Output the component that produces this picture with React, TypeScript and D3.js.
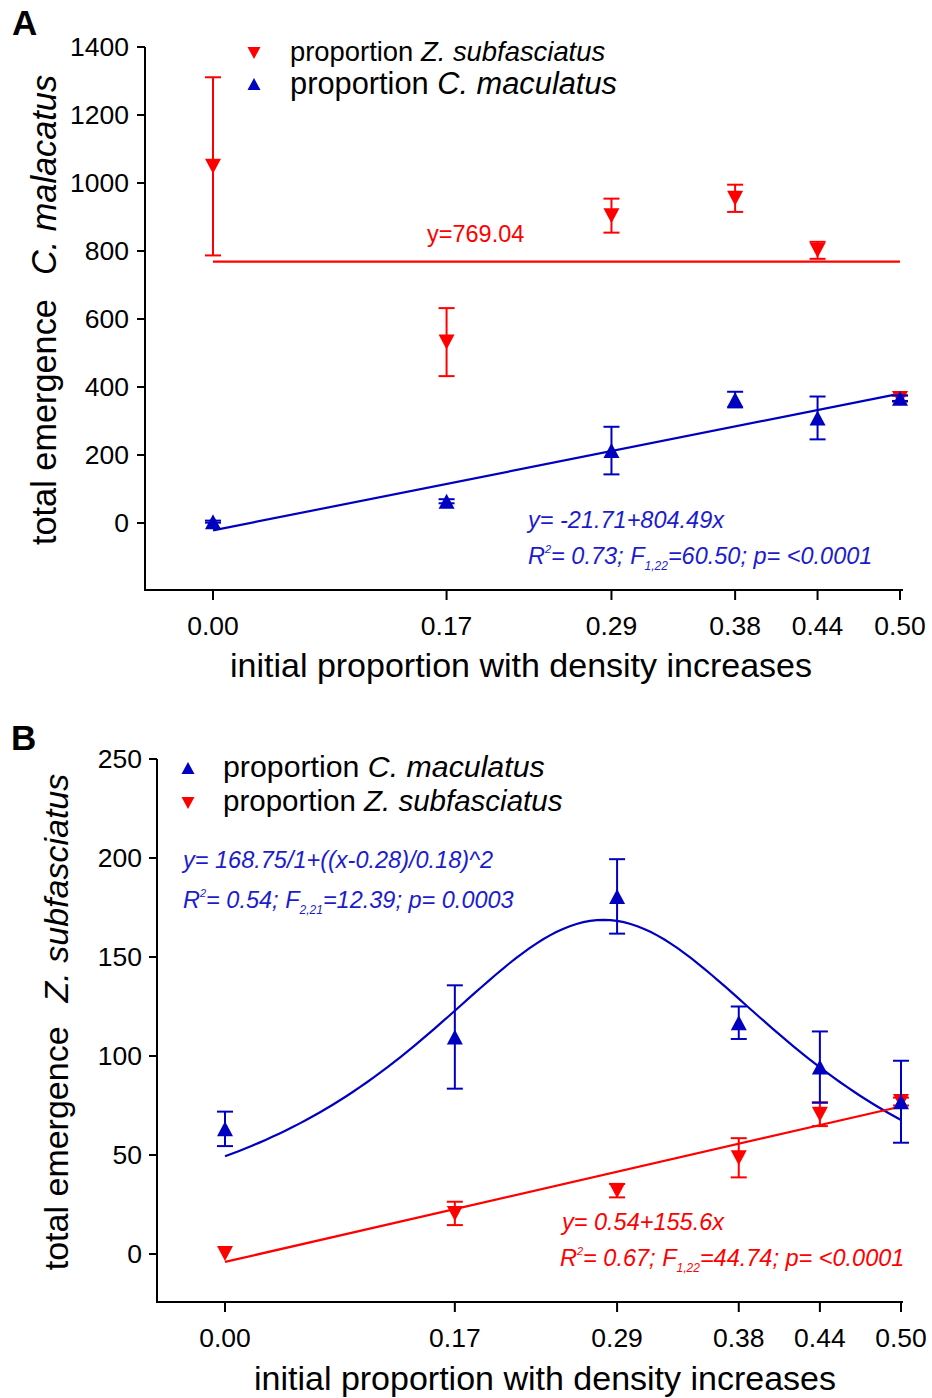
import React from "react";
import * as d3 from "d3";

// ---------- shared ----------
const xTickValues = [0, 0.17, 0.29, 0.38, 0.44, 0.5];
const xTickLabels = ["0.00", "0.17", "0.29", "0.38", "0.44", "0.50"];
const xPoints = [0, 0.17, 0.29, 0.38, 0.44, 0.5];

// ---------- panel A (C. malacatus emergence) ----------
const aTicksY = [0, 200, 400, 600, 800, 1000, 1200, 1400];
const aZsubMean = [1049, 532, 904, 955, 802, 366];
const aZsubErr = [262, 100, 50, 40, 25, 9];
const aCmacMean = [4, 64, 213, 363, 309, 367];
const aCmacErr = [3, 6, 70, 23, 63, 8];
const aZsubFit = 769.04; // horizontal line
const aCmacFit = [-21.71, 804.49]; // intercept, slope

// ---------- panel B (Z. subfasciatus emergence) ----------
const bTicksY = [0, 50, 100, 150, 200, 250];
const bCmacMean = [63.2, 109.6, 180.6, 116.8, 94.4, 76.9];
const bCmacErr = [8.7, 26.1, 18.8, 8.2, 18, 20.7];
const bZsubMean = [0.3, 20.5, 32, 48.6, 70.6, 77];
const bZsubErr = [0, 5.9, 3.4, 9.9, 6, 2];
const bCmacFit = [168.75, 0.28, 0.18]; // a, x0, b  (lorentzian)
const bZsubFit = [-4, 157]; // intercept, slope as drawn

const RED = "#ff0000";
const BLUE = "#0000c0";
const BLUE_TXT = "#1c1ccc";
const FONT = "'Liberation Sans', Arial, Helvetica, sans-serif";

function tri(cx: number, cy: number, up: boolean, hw = 8, hh = 7.5) {
  return up
    ? `M${cx},${cy - hh}L${cx + hw},${cy + hh}L${cx - hw},${cy + hh}Z`
    : `M${cx},${cy + hh}L${cx + hw},${cy - hh}L${cx - hw},${cy - hh}Z`;
}

function Series({ x, y, means, errs, color, up }: any) {
  return (
    <g>
      {xPoints.map((xv, i) => {
        const cx = x(xv);
        const top = y(means[i] + errs[i]);
        const bot = y(means[i] - errs[i]);
        return (
          <g key={i}>
            {errs[i] > 0 && (
              <g stroke={color} strokeWidth={2} fill="none">
                <line x1={cx} x2={cx} y1={top} y2={bot} />
                <line x1={cx - 8} x2={cx + 8} y1={top} y2={top} />
                <line x1={cx - 8} x2={cx + 8} y1={bot} y2={bot} />
              </g>
            )}
            <path d={tri(cx, y(means[i]), up)} fill={color} />
          </g>
        );
      })}
    </g>
  );
}

function Axes({ x, y, yTicks, axisX, axisBottom, axisTop, xLeft, xRight, labelRight }: any) {
  return (
    <g fontFamily={FONT} fontSize={26.5} fill="#000">
      <line x1={axisX} x2={axisX} y1={axisTop} y2={axisBottom} stroke="#000" strokeWidth={2} />
      <line x1={xLeft} x2={xRight} y1={axisBottom} y2={axisBottom} stroke="#000" strokeWidth={2} />
      {yTicks.map((t: number) => (
        <g key={t}>
          <line x1={axisX - 8} x2={axisX} y1={y(t)} y2={y(t)} stroke="#000" strokeWidth={2} />
          <text x={labelRight} y={y(t) + 9} textAnchor="end">
            {t}
          </text>
        </g>
      ))}
      {xTickValues.map((t, i) => (
        <g key={t}>
          <line x1={x(t)} x2={x(t)} y1={axisBottom} y2={axisBottom + 10} stroke="#000" strokeWidth={2} />
          <text x={x(t)} y={axisBottom + 45} textAnchor="middle">
            {xTickLabels[i]}
          </text>
        </g>
      ))}
    </g>
  );
}

function StatLine({ x, y, r2, df, F, p, color }: any) {
  return (
    <text x={x} y={y} fontFamily={FONT} fontSize={23.5} fontStyle="italic" fill={color}>
      <tspan>R</tspan>
      <tspan fontSize={11} dy={-11}>2</tspan>
      <tspan dy={11}>{`= ${r2}; F`}</tspan>
      <tspan fontSize={12} dy={6}>{df}</tspan>
      <tspan dy={-6}>{`=${F}; p= ${p}`}</tspan>
    </text>
  );
}

function PanelA() {
  const x = d3.scaleLinear().domain([0, 0.5]).range([213, 900]);
  const y = d3.scaleLinear().domain([0, 1400]).range([523, 47]);
  const line = d3.line<number>().x((d) => x(d)).y((d) => y(aCmacFit[0] + aCmacFit[1] * d));
  return (
    <g>
      <text x={12} y={35} fontFamily={FONT} fontWeight="bold" fontSize={35}>A</text>
      <Axes x={x} y={y} yTicks={aTicksY} axisX={145} axisTop={47} axisBottom={590} xLeft={144} xRight={903} labelRight={129} />
      <line x1={x(0)} x2={x(0.5)} y1={y(aZsubFit)} y2={y(aZsubFit)} stroke={RED} strokeWidth={2.2} />
      <path d={line([0, 0.5]) || ""} stroke={BLUE} strokeWidth={2.2} fill="none" />
      <Series x={x} y={y} means={aZsubMean} errs={aZsubErr} color={RED} up={false} />
      <Series x={x} y={y} means={aCmacMean} errs={aCmacErr} color={BLUE} up={true} />
      <text x={427} y={242} fontFamily={FONT} fontSize={23.5} fill={RED}>y=769.04</text>
      <text x={528} y={528} fontFamily={FONT} fontSize={23.5} fontStyle="italic" fill={BLUE_TXT}>
        y= -21.71+804.49x
      </text>
      <StatLine x={528} y={564} r2="0.73" df="1,22" F="60.50" p="<0.0001" color={BLUE_TXT} />
      {/* legend */}
      <path d={tri(254, 53, false, 6.5, 6)} fill={RED} />
      <path d={tri(254, 84, true, 6.5, 6)} fill={BLUE} />
      <text x={290} y={61} fontFamily={FONT} fontSize={27.4}>
        proportion <tspan fontStyle="italic">Z. subfasciatus</tspan>
      </text>
      <text x={290} y={94} fontFamily={FONT} fontSize={30.8}>
        proportion <tspan fontStyle="italic">C. maculatus</tspan>
      </text>
      {/* axis titles */}
      <text x={521} y={677} textAnchor="middle" fontFamily={FONT} fontSize={34}>
        initial proportion with density increases
      </text>
      <text transform="translate(56,310) rotate(-90)" textAnchor="middle" fontFamily={FONT} fontSize={34.3}>
        <tspan>total emergence</tspan>
        <tspan dx={24} fontStyle="italic">C. malacatus</tspan>
      </text>
    </g>
  );
}

function PanelB() {
  const x = d3.scaleLinear().domain([0, 0.5]).range([225, 901]);
  const y = d3.scaleLinear().domain([0, 250]).range([1254, 759]);
  const curveXs = d3.range(0, 0.5001, 0.005);
  const curve = d3
    .line<number>()
    .x((d) => x(d))
    .y((d) => y(bCmacFit[0] / (1 + Math.pow((d - bCmacFit[1]) / bCmacFit[2], 2))));
  const rline = d3.line<number>().x((d) => x(d)).y((d) => y(bZsubFit[0] + bZsubFit[1] * d));
  return (
    <g>
      <text x={11} y={750} fontFamily={FONT} fontWeight="bold" fontSize={35}>B</text>
      <Axes x={x} y={y} yTicks={bTicksY} axisX={157} axisTop={759} axisBottom={1302} xLeft={156} xRight={903} labelRight={142} />
      <path d={curve(curveXs) || ""} stroke={BLUE} strokeWidth={2.2} fill="none" />
      <path d={rline([0, 0.5]) || ""} stroke={RED} strokeWidth={2.2} fill="none" />
      <Series x={x} y={y} means={bZsubMean} errs={bZsubErr} color={RED} up={false} />
      <Series x={x} y={y} means={bCmacMean} errs={bCmacErr} color={BLUE} up={true} />
      <text x={183} y={868} fontFamily={FONT} fontSize={23.5} fontStyle="italic" fill={BLUE_TXT}>
        y= 168.75/1+((x-0.28)/0.18)^2
      </text>
      <StatLine x={183} y={908} r2="0.54" df="2,21" F="12.39" p="0.0003" color={BLUE_TXT} />
      <text x={562} y={1230} fontFamily={FONT} fontSize={23.5} fontStyle="italic" fill={RED}>
        y= 0.54+155.6x
      </text>
      <StatLine x={560} y={1266} r2="0.67" df="1,22" F="44.74" p="<0.0001" color={RED} />
      {/* legend */}
      <path d={tri(188, 768, true, 6.5, 6)} fill={BLUE} />
      <path d={tri(188, 803, false, 6.5, 6)} fill={RED} />
      <text x={223} y={777} fontFamily={FONT} fontSize={30.3}>
        proportion <tspan fontStyle="italic">C. maculatus</tspan>
      </text>
      <text x={223} y={811} fontFamily={FONT} fontSize={29.5}>
        proportion <tspan fontStyle="italic">Z. subfasciatus</tspan>
      </text>
      {/* axis titles */}
      <text x={545} y={1390} textAnchor="middle" fontFamily={FONT} fontSize={34}>
        initial proportion with density increases
      </text>
      <text transform="translate(68,1022) rotate(-90)" textAnchor="middle" fontFamily={FONT} fontSize={34}>
        <tspan>total emergence</tspan>
        <tspan dx={24} fontStyle="italic">Z. subfasciatus</tspan>
      </text>
    </g>
  );
}

export default function App() {
  return (
    <svg
      width={932}
      height={1398}
      viewBox="0 0 932 1398"
      style={{ position: "absolute", left: 0, top: 0, background: "#fff", display: "block" }}
    >
      <rect width={932} height={1398} fill="#fff" />
      <PanelA />
      <PanelB />
    </svg>
  );
}
